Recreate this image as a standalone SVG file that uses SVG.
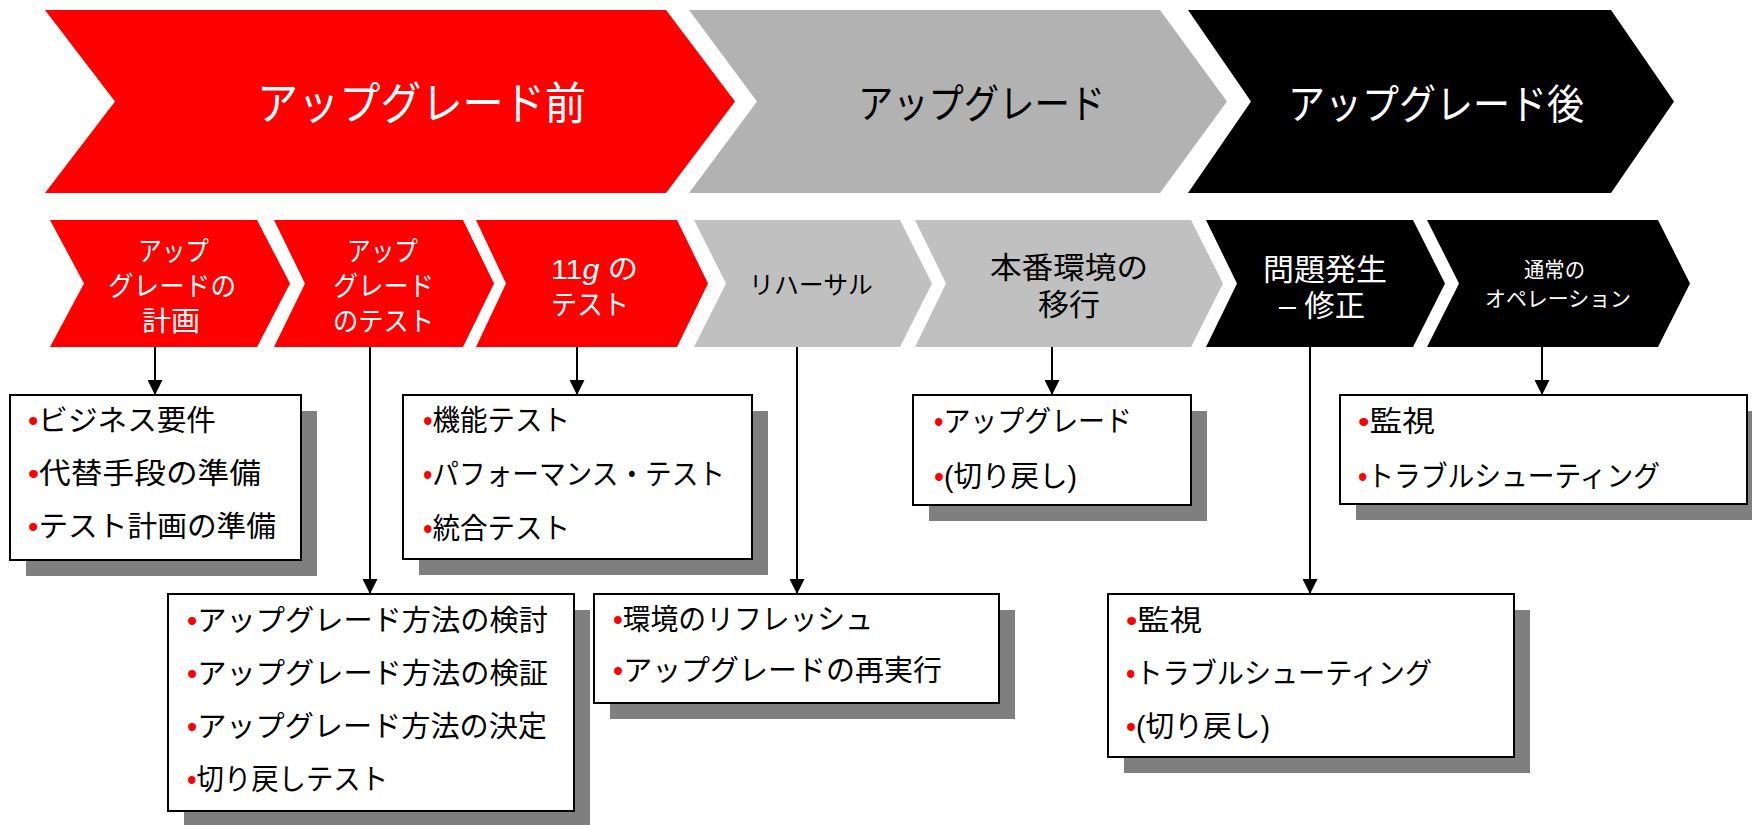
<svg xmlns="http://www.w3.org/2000/svg" width="1752" height="825" viewBox="0 0 1752 825">
<defs>
<style>
text { font-family: "Liberation Sans", "Noto Sans CJK JP", sans-serif; }
.w { fill: #ffffff; }
.k { fill: #000000; }
.red { fill: #ff0000; }
.g1 { fill: #b2b2b2; }
.g2 { fill: #c0c0c0; }
.blk { fill: #000000; }
.box { fill: #ffffff; stroke: #000000; stroke-width: 2; }
.sh { fill: #7f7f7f; }
.bt { font-size: 29px; fill: #000000; }
.b { fill: #ff0000; }
.conn line { stroke: #000000; stroke-width: 2; marker-end: url(#ah); }
</style>
<marker id="ah" markerUnits="userSpaceOnUse" markerWidth="15" markerHeight="15" refX="15" refY="7.5" orient="auto" viewBox="0 0 15 15">
<path d="M0,0 L15,7.5 L0,15 Z" fill="#000000"/>
</marker>
</defs>
<rect width="1752" height="825" fill="#ffffff"/>

<!-- Top phase chevrons -->
<g id="phase-pre">
<path class="red" d="M45,10 L666,10 L735,101.5 L666,193 L45,193 L115,101.5 Z"/>
<text class="w" x="257" y="120" font-size="45" textLength="329" lengthAdjust="spacingAndGlyphs">アップグレード前</text>
</g>
<g id="phase-upgrade">
<path class="g1" d="M689,10 L1160,10 L1227,101.5 L1160,193 L689,193 L757,101.5 Z"/>
<text class="k" x="858" y="118" font-size="40" textLength="247" lengthAdjust="spacingAndGlyphs">アップグレード</text>
</g>
<g id="phase-post">
<path class="blk" d="M1188,10 L1611,10 L1674,101.5 L1611,193 L1188,193 L1251,101.5 Z"/>
<text class="w" x="1288" y="119" font-size="41" textLength="296" lengthAdjust="spacingAndGlyphs">アップグレード後</text>
</g>

<!-- Step chevrons -->
<g id="step-plan">
<path class="red" d="M50,220 L257,220 L290,283.5 L257,347 L50,347 L84,283.5 Z"/>
<text class="w" x="138" y="261" font-size="27" textLength="71" lengthAdjust="spacingAndGlyphs">アップ</text>
<text class="w" x="108" y="296" font-size="27" textLength="128" lengthAdjust="spacingAndGlyphs">グレードの</text>
<text class="w" x="142" y="331" font-size="27" textLength="58" lengthAdjust="spacingAndGlyphs">計画</text>
</g>
<g id="step-test">
<path class="red" d="M274,220 L463,220 L494,283.5 L463,347 L274,347 L305,283.5 Z"/>
<text class="w" x="347" y="261" font-size="27" textLength="71" lengthAdjust="spacingAndGlyphs">アップ</text>
<text class="w" x="333" y="296" font-size="27" textLength="101" lengthAdjust="spacingAndGlyphs">グレード</text>
<text class="w" x="333" y="331" font-size="27" textLength="101" lengthAdjust="spacingAndGlyphs">のテスト</text>
</g>
<g id="step-11g">
<path class="red" d="M476,220 L677,220 L708,283.5 L677,347 L476,347 L506,283.5 Z"/>
<text class="w" x="551" y="279" font-size="28" textLength="87" lengthAdjust="spacingAndGlyphs">11<tspan font-style="italic">g</tspan> の</text>
<text class="w" x="551" y="315" font-size="28" textLength="78" lengthAdjust="spacingAndGlyphs">テスト</text>
</g>
<g id="step-rehearsal">
<path class="g2" d="M694,220 L900,220 L932,283.5 L900,347 L694,347 L726,283.5 Z"/>
<text class="k" x="749" y="294" font-size="25" textLength="124" lengthAdjust="spacingAndGlyphs">リハーサル</text>
</g>
<g id="step-migrate">
<path class="g2" d="M915,220 L1191,220 L1223,283.5 L1191,347 L915,347 L946,283.5 Z"/>
<text class="k" x="990" y="278" font-size="30" textLength="158" lengthAdjust="spacingAndGlyphs">本番環境の</text>
<text class="k" x="1038" y="315" font-size="30" textLength="62" lengthAdjust="spacingAndGlyphs">移行</text>
</g>
<g id="step-fix">
<path class="blk" d="M1206,220 L1413,220 L1445,283.5 L1413,347 L1206,347 L1237,283.5 Z"/>
<text class="w" x="1263" y="280" font-size="30" textLength="124" lengthAdjust="spacingAndGlyphs">問題発生</text>
<text class="w" x="1279" y="316" font-size="30" textLength="86" lengthAdjust="spacingAndGlyphs">– 修正</text>
</g>
<g id="step-ops">
<path class="blk" d="M1427,220 L1658,220 L1690,283.5 L1658,347 L1427,347 L1459,283.5 Z"/>
<text class="w" x="1524" y="277" font-size="21" textLength="61" lengthAdjust="spacingAndGlyphs">通常の</text>
<text class="w" x="1485" y="306" font-size="21" textLength="146" lengthAdjust="spacingAndGlyphs">オペレーション</text>
</g>

<!-- Detail boxes -->
<g id="box-plan">
<rect class="sh" x="26" y="411" width="291" height="165"/>
<rect class="box" x="10" y="395" width="291" height="165"/>
<text class="bt" x="28" y="431" textLength="188" lengthAdjust="spacingAndGlyphs"><tspan class="b">•</tspan>ビジネス要件</text>
<text class="bt" x="28" y="484" textLength="233" lengthAdjust="spacingAndGlyphs"><tspan class="b">•</tspan>代替手段の準備</text>
<text class="bt" x="28" y="537" textLength="248" lengthAdjust="spacingAndGlyphs"><tspan class="b">•</tspan>テスト計画の準備</text>
</g>
<g id="box-test">
<rect class="sh" x="184" y="610" width="406" height="217"/>
<rect class="box" x="168" y="594" width="406" height="217"/>
<text class="bt" x="187" y="631" textLength="361" lengthAdjust="spacingAndGlyphs"><tspan class="b">•</tspan>アップグレード方法の検討</text>
<text class="bt" x="187" y="684" textLength="361" lengthAdjust="spacingAndGlyphs"><tspan class="b">•</tspan>アップグレード方法の検証</text>
<text class="bt" x="187" y="737" textLength="360" lengthAdjust="spacingAndGlyphs"><tspan class="b">•</tspan>アップグレード方法の決定</text>
<text class="bt" x="187" y="790" textLength="201" lengthAdjust="spacingAndGlyphs"><tspan class="b">•</tspan>切り戻しテスト</text>
</g>
<g id="box-11g">
<rect class="sh" x="419" y="411" width="349" height="164"/>
<rect class="box" x="403" y="395" width="349" height="164"/>
<text class="bt" x="423" y="431" textLength="147" lengthAdjust="spacingAndGlyphs"><tspan class="b">•</tspan>機能テスト</text>
<text class="bt" x="423" y="485" textLength="302" lengthAdjust="spacingAndGlyphs"><tspan class="b">•</tspan>パフォーマンス・テスト</text>
<text class="bt" x="423" y="539" textLength="147" lengthAdjust="spacingAndGlyphs"><tspan class="b">•</tspan>統合テスト</text>
</g>
<g id="box-rehearsal">
<rect class="sh" x="610" y="610" width="405" height="109"/>
<rect class="box" x="594" y="594" width="405" height="109"/>
<text class="bt" x="613" y="630" textLength="260" lengthAdjust="spacingAndGlyphs"><tspan class="b">•</tspan>環境のリフレッシュ</text>
<text class="bt" x="613" y="681" textLength="329" lengthAdjust="spacingAndGlyphs"><tspan class="b">•</tspan>アップグレードの再実行</text>
</g>
<g id="box-migrate">
<rect class="sh" x="929" y="411" width="278" height="110"/>
<rect class="box" x="913" y="395" width="278" height="110"/>
<text class="bt" x="934" y="432" textLength="198" lengthAdjust="spacingAndGlyphs"><tspan class="b">•</tspan>アップグレード</text>
<text class="bt" x="934" y="487" textLength="143" lengthAdjust="spacingAndGlyphs"><tspan class="b">•</tspan>(切り戻し)</text>
</g>
<g id="box-fix">
<rect class="sh" x="1124" y="610" width="406" height="163"/>
<rect class="box" x="1108" y="594" width="406" height="163"/>
<text class="bt" x="1126" y="631" textLength="76" lengthAdjust="spacingAndGlyphs"><tspan class="b">•</tspan>監視</text>
<text class="bt" x="1126" y="684" textLength="306" lengthAdjust="spacingAndGlyphs"><tspan class="b">•</tspan>トラブルシューティング</text>
<text class="bt" x="1126" y="737" textLength="144" lengthAdjust="spacingAndGlyphs"><tspan class="b">•</tspan>(切り戻し)</text>
</g>
<g id="box-ops">
<rect class="sh" x="1356" y="411" width="407" height="109"/>
<rect class="box" x="1340" y="395" width="407" height="109"/>
<text class="bt" x="1358" y="432" textLength="77" lengthAdjust="spacingAndGlyphs"><tspan class="b">•</tspan>監視</text>
<text class="bt" x="1358" y="487" textLength="302" lengthAdjust="spacingAndGlyphs"><tspan class="b">•</tspan>トラブルシューティング</text>
</g>

<!-- Connectors -->
<g id="connectors" class="conn">
<line x1="155" y1="347" x2="155" y2="395"/>
<line x1="370" y1="347" x2="370" y2="594"/>
<line x1="577" y1="347" x2="577" y2="395"/>
<line x1="797" y1="347" x2="797" y2="594"/>
<line x1="1052" y1="347" x2="1052" y2="395"/>
<line x1="1310" y1="347" x2="1310" y2="594"/>
<line x1="1542" y1="347" x2="1542" y2="395"/>
</g>
</svg>
